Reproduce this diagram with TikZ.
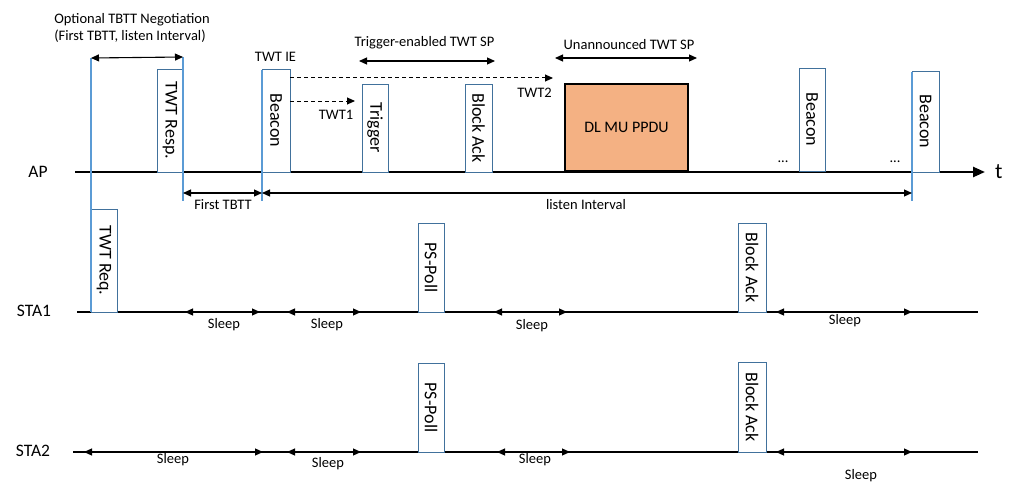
\documentclass[tikz,border=0pt]{standalone}
\usepackage{fontspec}
\setmainfont{Carlito}
\usepackage{tikz}
\usetikzlibrary{arrows.meta,positioning,calc}
\definecolor{twtBorder}{HTML}{41719C}
\definecolor{twtBlue}{HTML}{5B9BD5}
\definecolor{twtOrange}{HTML}{F4B183}
\tikzset{
  twtTip/.tip={Triangle[length=8pt,width=7pt]},
  twtLine/.style={line width=2.4pt, draw=black},
  twtMark/.style={draw=twtBlue, line width=2pt},
  twtSpan/.style={twtTip-twtTip, line width=1.1pt, draw=black},
  twtDash/.style={-twtTip, line width=1pt, dash pattern=on 4pt off 3pt, draw=black},
  twtFrame/.style={
    draw=twtBorder,
    fill=white,
    line width=0.9pt,
    rotate=-90,
    minimum height=26pt,
    inner sep=0pt,
    font=\fontsize{18}{20}\selectfont
  },
  twtText/.style={font=\fontsize{14.5}{17}\selectfont, inner sep=0pt},
  twtStation/.style={font=\fontsize{17.5}{20}\selectfont, inner sep=0pt}
}

\begin{document}
\begin{tikzpicture}[x=1pt, y=-1pt]
  \useasboundingbox (0,0) rectangle (1023,495);

  % time lines
  \coordinate (apStart) at (75,172);
  \coordinate (apEnd) at (985,172);
  \coordinate (staOneStart) at (77,312);
  \coordinate (staOneEnd) at (978,312);
  \coordinate (staTwoStart) at (73,452);
  \coordinate (staTwoEnd) at (978,452);
  \draw[twtLine, -{Triangle[length=12pt,width=10pt]}] (apStart) -- (apEnd);
  \draw[twtLine] (staOneStart) -- (staOneEnd);
  \draw[twtLine] (staTwoStart) -- (staTwoEnd);
  \node[twtStation] (apLabel) at (38,172) {AP};
  \node[twtStation] (staOneLabel) at (34,311) {STA1};
  \node[twtStation] (staTwoLabel) at (33,451) {STA2};
  \node[inner sep=0pt, font=\fontsize{22}{24}\selectfont, right=10pt of apEnd] (tLabel) {t};

  % frames on the air
  \node[twtFrame, minimum width=103pt] (twtResp) at (170,120.5) {TWT Resp.};
  \node[twtFrame, minimum width=103pt, minimum height=28pt] (beaconA) at (276,120.5) {Beacon};
  \node[twtFrame, minimum width=88pt] (trigger) at (375,128) {Trigger};
  \node[twtFrame, minimum width=88pt, minimum height=27pt] (ackAp) at (478.5,128) {Block Ack};
  \node[draw=black, fill=twtOrange, line width=1.2pt, minimum width=123pt, minimum height=87pt,
        font=\fontsize{16}{18}\selectfont] (ppdu) at (626.5,127.5) {DL MU PPDU};
  \node[twtFrame, minimum width=103pt] (beaconB) at (812,119.5) {Beacon};
  \node[twtFrame, minimum width=101pt, minimum height=27pt] (beaconC) at (925.5,121.5) {Beacon};
  \node[twtFrame, minimum width=103pt] (twtReq) at (104,260.5) {TWT Req.};
  \node[twtFrame, minimum width=89pt] (pollOne) at (431,267.5) {PS-Poll};
  \node[twtFrame, minimum width=89pt, minimum height=28pt] (ackOne) at (752,267.5) {Block Ack};
  \node[twtFrame, minimum width=89pt] (pollTwo) at (431,407.5) {PS-Poll};
  \node[twtFrame, minimum width=90pt, minimum height=28pt] (ackTwo) at (752,407) {Block Ack};
  \node[twtText] (dotsA) at (783,162) {...};
  \node[twtText] (dotsB) at (895,162) {...};

  % markers and spans
  \coordinate (negStart) at (91,58);
  \coordinate (negEnd) at (183,57);
  \coordinate (tbttMark) at (262,70);
  \coordinate (listenEnd) at (912,72);
  \coordinate (spanY) at (0,193);
  \draw[twtMark] (negStart) -- (negStart |- staOneStart);
  \draw[twtMark] (negEnd) -- (negEnd |- 0,201);
  \draw[twtMark] (tbttMark) -- (tbttMark |- 0,201);
  \draw[twtMark] (listenEnd) -- (listenEnd |- 0,201);
  \draw[twtSpan] (negStart) -- (negEnd);
  \draw[twtSpan] (negEnd |- spanY) -- (tbttMark |- spanY);
  \draw[twtSpan] (tbttMark |- spanY) -- (listenEnd |- spanY);
  \node[twtText, align=left] (negLabel) at (132,27.5) {Optional TBTT Negotiation\\(First TBTT, listen Interval)};
  \node[twtText] (firstLabel) at (223,205) {First TBTT};
  \node[twtText] (listenLabel) at (586,205) {listen Interval};
  \node[twtText] (ieLabel) at (275.5,57) {TWT IE};

  \coordinate (teStart) at (359,61);
  \coordinate (teEnd) at (495,61);
  \coordinate (uaStart) at (555,58);
  \coordinate (uaEnd) at (697,58);
  \draw[twtSpan] (teStart) -- (teEnd);
  \draw[twtSpan] (uaStart) -- (uaEnd);
  \node[twtText] (teLabel) at (424.5,43) {Trigger-enabled TWT SP};
  \node[twtText] (uaLabel) at (629,45) {Unannounced TWT SP};

  % target wake times
  \coordinate (twtOneEnd) at (355,101);
  \coordinate (twtTwoEnd) at (553,78);
  \draw[twtDash] (beaconA.north |- twtOneEnd) -- (twtOneEnd);
  \draw[twtDash] (beaconA.north |- twtTwoEnd) -- (twtTwoEnd);
  \node[twtText] (twtOneLabel) at (336,115) {TWT1};
  \node[twtText] (twtTwoLabel) at (534.5,93) {TWT2};

  % sleep periods
  \coordinate (sleepOneA) at (185,312);  \coordinate (sleepOneB) at (260,312);
  \coordinate (sleepOneC) at (287,312);  \coordinate (sleepOneD) at (361,312);
  \coordinate (sleepOneE) at (494,312);  \coordinate (sleepOneF) at (567,312);
  \coordinate (sleepOneG) at (776,312);  \coordinate (sleepOneH) at (912,312);
  \draw[twtSpan] (sleepOneA) -- (sleepOneB);
  \draw[twtSpan] (sleepOneC) -- (sleepOneD);
  \draw[twtSpan] (sleepOneE) -- (sleepOneF);
  \draw[twtSpan] (sleepOneG) -- (sleepOneH);
  \node[twtText] (sleepOneP) at (224,325) {Sleep};
  \node[twtText] (sleepOneQ) at (327,325) {Sleep};
  \node[twtText] (sleepOneR) at (532,326) {Sleep};
  \node[twtText] (sleepOneS) at (845,321) {Sleep};

  \coordinate (sleepTwoA) at (84,452);   \coordinate (sleepTwoB) at (263,452);
  \coordinate (sleepTwoC) at (287,452);  \coordinate (sleepTwoD) at (361,452);
  \coordinate (sleepTwoE) at (497,452);  \coordinate (sleepTwoF) at (570,452);
  \coordinate (sleepTwoG) at (776,452);  \coordinate (sleepTwoH) at (912,452);
  \draw[twtSpan] (sleepTwoA) -- (sleepTwoB);
  \draw[twtSpan] (sleepTwoC) -- (sleepTwoD);
  \draw[twtSpan] (sleepTwoE) -- (sleepTwoF);
  \draw[twtSpan] (sleepTwoG) -- (sleepTwoH);
  \node[twtText] (sleepTwoP) at (173,460) {Sleep};
  \node[twtText] (sleepTwoQ) at (328,464) {Sleep};
  \node[twtText] (sleepTwoR) at (535,460) {Sleep};
  \node[twtText] (sleepTwoS) at (861,476) {Sleep};
\end{tikzpicture}
\end{document}
